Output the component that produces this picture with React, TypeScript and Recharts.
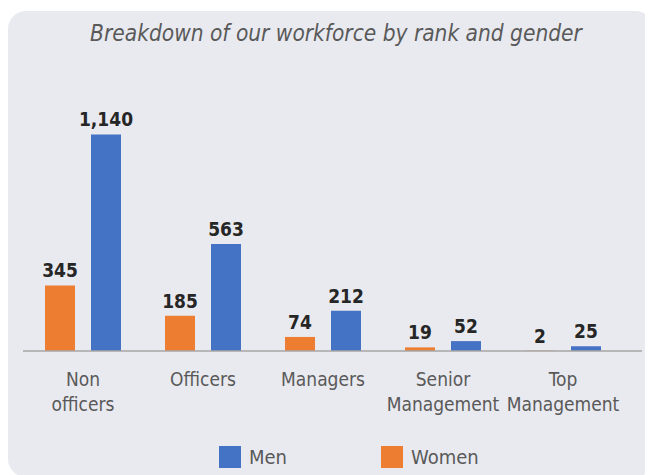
import React from 'react';
import { Bar, BarChart, LabelList, XAxis, YAxis } from 'recharts';

const ranks = ['Non officers', 'Officers', 'Managers', 'Senior Management', 'Top Management'];
const women = [345, 185, 74, 19, 2];
const men = [1140, 563, 212, 52, 25];
const legendItems = [
  { name: 'Men', color: '#4472C4' },
  { name: 'Women', color: '#ED7D31' },
];

const data = ranks.map((rank, i) => ({ rank, women: women[i], men: men[i] }));

const FONT = '"DejaVu Sans Condensed", "DejaVu Sans", sans-serif';

const RankTick = (props: any) => {
  const { x, y, payload } = props;
  const lines = String(payload.value).split(' ');
  return (
    <text x={x} y={y} textAnchor="middle" fill="#595959" fontSize={19} fontFamily={FONT}>
      {lines.map((line, i) => (
        <tspan key={line} x={x} dy={i === 0 ? 35 : 25}>
          {line}
        </tspan>
      ))}
    </text>
  );
};

const formatValue = (v: any) => Number(v).toLocaleString('en-US');

const App: React.FC = () => {
  return (
    <div style={{ paddingTop: 3 }}>
      <div
        style={{
          position: 'relative',
          width: 645,
          height: 466,
          background: '#E9EAF0',
          borderRadius: 18,
          fontFamily: FONT,
        }}
      >
        <div
          style={{
            position: 'absolute',
            top: 9,
            left: 0,
            width: 656,
            textAlign: 'center',
            fontSize: 22.5,
            fontStyle: 'italic',
            color: '#595959',
          }}
        >
          Breakdown of our workforce by rank and gender
        </div>
        <div style={{ position: 'absolute', top: 0, left: 0 }}>
          <BarChart
            width={644}
            height={464}
            data={data}
            margin={{ top: 112, right: 10, left: 15, bottom: 0 }}
            barSize={30}
            barGap={16}
          >
            <XAxis
              dataKey="rank"
              height={124}
              interval={0}
              tickLine={false}
              tickSize={0}
              tickMargin={0}
              padding={{ left: 0, right: 19 }}
              axisLine={{ stroke: '#A6A6A6', strokeWidth: 1.5 }}
              tick={<RankTick />}
            />
            <YAxis hide domain={[0, 1200]} />
            <Bar dataKey="women" fill="#ED7D31" isAnimationActive={false}>
              <LabelList
                dataKey="women"
                position="top"
                offset={8}
                formatter={formatValue}
                fill="#262626"
                fontSize={19}
                fontWeight="bold"
                fontFamily={FONT}
              />
            </Bar>
            <Bar dataKey="men" fill="#4472C4" isAnimationActive={false}>
              <LabelList
                dataKey="men"
                position="top"
                offset={8}
                formatter={formatValue}
                fill="#262626"
                fontSize={19}
                fontWeight="bold"
                fontFamily={FONT}
              />
            </Bar>
          </BarChart>
        </div>
        <div
          style={{
            position: 'absolute',
            top: 434,
            left: 211,
            display: 'flex',
            alignItems: 'center',
            fontSize: 20,
            color: '#595959',
          }}
        >
          {legendItems.map((item, i) => (
            <div
              key={item.name}
              style={{ display: 'flex', alignItems: 'center', marginLeft: i === 0 ? 0 : 94 }}
            >
              <span style={{ width: 22, height: 22, background: item.color, marginRight: 8 }} />
              <span>{item.name}</span>
            </div>
          ))}
        </div>
      </div>
    </div>
  );
};

export default App;
